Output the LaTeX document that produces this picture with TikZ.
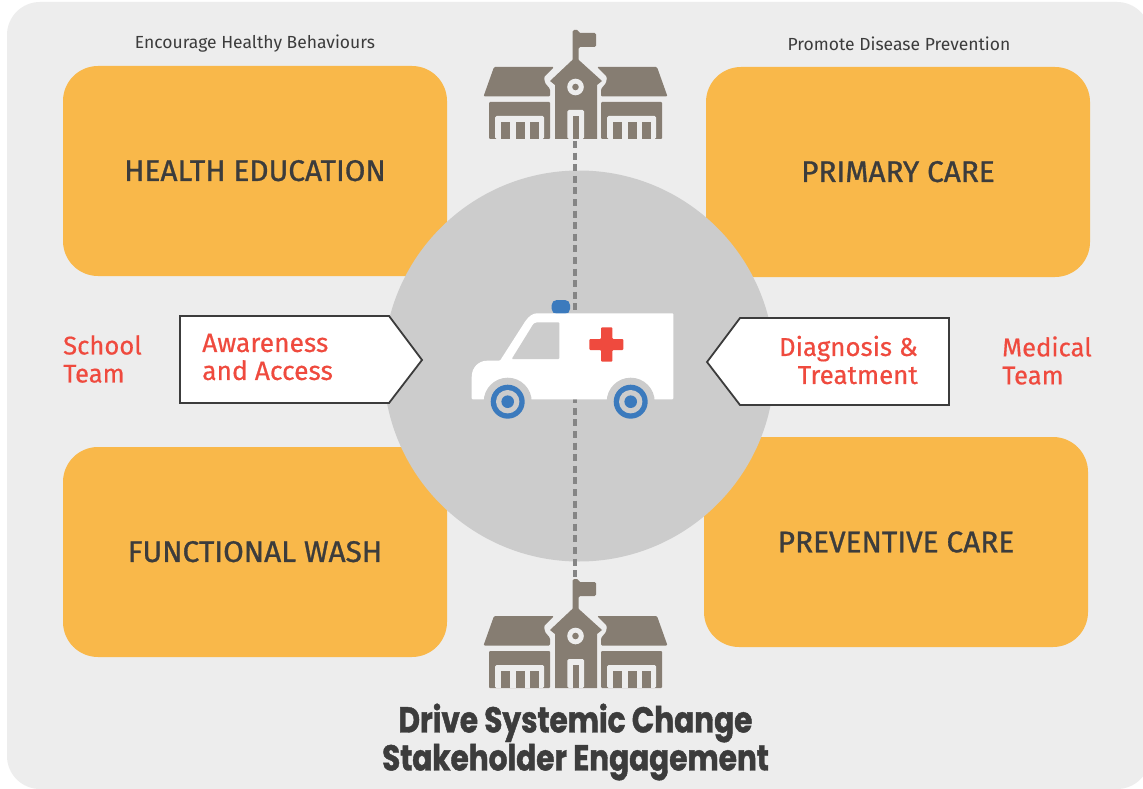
\documentclass[tikz,border=0pt]{standalone}
\usepackage{fontspec}
\setmainfont{Fira Sans}
\newfontfamily\titlefont{Poppins}[UprightFont=* Bold,FakeStretch=0.82,FakeBold=1.2]
\newfontfamily\headfont{Fira Sans}[FakeBold=1]
\newfontfamily\redfont{Fira Sans}[FakeBold=0.5]
\usetikzlibrary{shapes.geometric}
\definecolor{panelgray}{HTML}{EDEDED}
\definecolor{hubgray}{HTML}{CCCCCC}
\definecolor{boxorange}{HTML}{F9B84A}
\definecolor{darktext}{HTML}{3C3C3C}
\definecolor{alertred}{HTML}{EF4A3E}
\definecolor{schoolbrown}{HTML}{867D72}
\definecolor{dashgray}{HTML}{858585}
\definecolor{sirenblue}{HTML}{3B7ABD}
\tikzset{
  x=1pt,y=-1pt,
  carebox/.style={fill=boxorange,rounded corners=35pt,minimum width=384pt,minimum height=210pt,inner sep=0pt,font=\headfont\fontsize{29.8}{30}\selectfont,text=darktext},
  toplabel/.style={font=\fontsize{17.5}{20}\selectfont,text=darktext,inner sep=0pt},
  teamlabel/.style={font=\redfont\fontsize{25.6}{28}\selectfont,text=alertred,align=left,inner sep=0pt},
  tagtext/.style={font=\redfont\fontsize{26.4}{28}\selectfont,text=alertred,inner sep=0pt},
  tagtextb/.style={font=\redfont\fontsize{25.9}{28}\selectfont,text=alertred,inner sep=0pt},
  tagline/.style={draw=darktext,line width=1.8pt,fill=white,line join=miter},
  titletext/.style={font=\titlefont\fontsize{36}{38}\selectfont,text=darktext,align=center,inner sep=0pt},
  sb/.style={fill=schoolbrown,draw=none},
  sl/.style={fill=panelgray,draw=none},
}
\newcommand{\schoolicon}[1]{%
\begin{scope}[yshift=#1]
  \fill[sb,rounded corners=1.5pt] (572.7,139) -- (572.7,30) -- (578.7,30) -- (578.7,33) -- (596,33) -- (596,47) -- (578.7,47) -- (578.7,60) -- cycle;
  \fill[sb,rounded corners=1.2pt] (494,67) -- (554,67) -- (544,77) -- (545,83) -- (550,89) -- (550,96.5) -- (483.5,96.5) -- cycle;
  \fill[sb,rounded corners=1.2pt] (657,67) -- (597,67) -- (607,77) -- (606,83) -- (601,89) -- (601,96.5) -- (667.5,96.5) -- cycle;
  \fill[sb,rounded corners=1pt] (489,102) -- (550,102) -- (550,139) -- (489,139) -- cycle;
  \fill[sb,rounded corners=1pt] (601,102) -- (662,102) -- (662,139) -- (601,139) -- cycle;
  \fill[sl,rounded corners=1.5pt] (495,139) -- (495,116) -- (544,116) -- (544,139) -- cycle;
  \fill[sl,rounded corners=1.5pt] (607,139) -- (607,116) -- (656,116) -- (656,139) -- cycle;
  \foreach \bx in {501,515.5,530,613,627.5,642} \fill[sb] (\bx,122) rectangle ++(9,17);
  \fill[sb] (575.5,57) -- (602,81) -- (597,85) -- (597,139) -- (555,139) -- (555,85) -- (550,81) -- cycle;
  \fill[sl] (575.5,87) circle[radius=8.3];
  \fill[sb] (575.5,87) circle[radius=3.3];
  \fill[sl,rounded corners=1.5pt] (567.3,139) -- (567.3,110) -- (584,110) -- (584,139) -- cycle;
  \fill[sb] (572.7,116) rectangle (579.3,139);
\end{scope}}
\begin{document}
\begin{tikzpicture}
\useasboundingbox (0,0) rectangle (1143,789);
\fill[white] (0,0) rectangle (1143,789);
\begin{scope}
  \clip (0,0) rectangle (1143,789);
  \fill[panelgray,rounded corners=33pt] (7,2) rectangle (1150,789);
\end{scope}

\node[carebox] (edu) at (255,171) {\raisebox{1pt}{HEALTH EDUCATION}};
\node[carebox] (care) at (898,172) {\raisebox{1pt}{PRIMARY CARE}};
\node[carebox] (wash) at (255,552) {\raisebox{1pt}{FUNCTIONAL WASH}};
\node[carebox] (prev) at (896,542) {\raisebox{-1pt}{PREVENTIVE CARE}};

\node[circle,fill=hubgray,minimum size=391pt,inner sep=0pt] (hub) at (579,366) {};

\coordinate (axistop) at (575,141);
\coordinate (axisbot) at (575,582);
\draw[dashgray,line width=4pt,dash pattern=on 7pt off 4.6pt] (axistop) -- (axisbot);

\schoolicon{0pt}
\schoolicon{-549pt}

\node[toplabel] (healthy) at (255,44) {Encourage Healthy Behaviours};
\node[toplabel] (prevent) at (899,44) {Promote Disease Prevention};
\node[teamlabel,anchor=west] (school) at (63,359) {School\\Team};
\node[teamlabel,anchor=west] (medical) at (1002,360.5) {Medical\\Team};

\draw[tagline] (180,316) -- (389,316) -- (422,360) -- (389,403) -- (180,403) -- cycle;
\draw[tagline] (949,318) -- (740,318) -- (707,362) -- (740,405) -- (949,405) -- cycle;
\node[tagtext,align=left,anchor=west] (aware) at (202,357) {Awareness\\and Access};
\node[tagtextb,align=right,anchor=east] (diag) at (918,360) {Diagnosis \&\\Treatment};

\fill[sirenblue,rounded corners=5pt] (551.7,314) -- (551.7,300) -- (570,300) -- (570,314) -- cycle;
\fill[white,rounded corners=1pt] (471.7,399.3) -- (471.7,378) .. controls (471.7,367) and (479,360.7) .. (488,360.7) -- (500,360.7) -- (525,321.7) .. controls (529,316) and (533,313.3) .. (538,313.3) -- (673.3,313.3) -- (673.3,399.3) -- cycle;
\fill[hubgray,rounded corners=1pt] (511.7,359) -- (559.3,359) -- (559.3,322.3) -- (538.3,322.3) .. controls (535,322.3) and (533,324) .. (531.7,326.7) -- cycle;
\fill[alertred,rounded corners=1pt] (589.3,339) -- (601,339) -- (601,327.3) -- (612.3,327.3) -- (612.3,339) -- (623.3,339) -- (623.3,350) -- (612.3,350) -- (612.3,361.7) -- (601,361.7) -- (601,350) -- (589.3,350) -- cycle;
\begin{scope}
  \clip (460,370) rectangle (680,399.3);
  \fill[hubgray] (507.7,401.7) circle[radius=24];
  \fill[hubgray] (630.7,401.7) circle[radius=24];
\end{scope}
\foreach \wx in {507.7,630.7} {
  \fill[sirenblue] (\wx,401.7) circle[radius=17];
  \fill[hubgray] (\wx,401.7) circle[radius=11.7];
  \fill[sirenblue] (\wx,401.7) circle[radius=6.3];
}

\node[titletext] (title) at (575.5,742) {Drive Systemic Change\\Stakeholder Engagement};
\end{tikzpicture}
\end{document}
